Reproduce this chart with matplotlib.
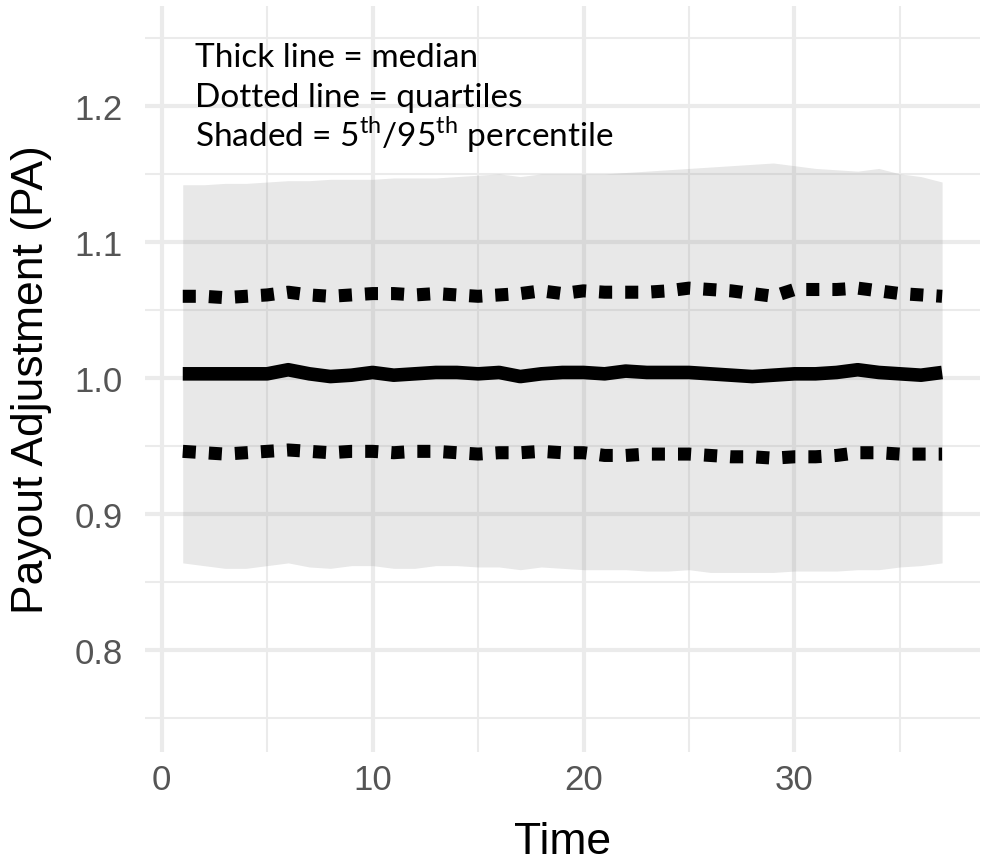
# Payout adjustment fan chart: median, quartiles and 5th/95th percentile band
import numpy as np
import matplotlib.pyplot as plt
from matplotlib.ticker import MultipleLocator

plt.rcParams['mathtext.fontset'] = 'custom'
plt.rcParams['mathtext.rm'] = 'Lato'

# Values
time = list(range(1, 38))
p95 = [1.142, 1.142, 1.143, 1.143, 1.144, 1.145, 1.145, 1.146, 1.146, 1.146,
       1.147, 1.147, 1.147, 1.148, 1.149, 1.150, 1.148, 1.150, 1.150, 1.150,
       1.150, 1.151, 1.152, 1.153, 1.154, 1.155, 1.156, 1.157, 1.158, 1.156,
       1.154, 1.153, 1.152, 1.154, 1.150, 1.148, 1.144]
p05 = [0.864, 0.862, 0.860, 0.860, 0.862, 0.864, 0.861, 0.860, 0.862, 0.862,
       0.860, 0.860, 0.862, 0.862, 0.861, 0.861, 0.859, 0.861, 0.860, 0.859,
       0.859, 0.859, 0.858, 0.858, 0.859, 0.857, 0.857, 0.857, 0.857, 0.858,
       0.858, 0.858, 0.859, 0.859, 0.861, 0.862, 0.864]
median = [1.003, 1.003, 1.003, 1.003, 1.003, 1.006, 1.003, 1.001, 1.002, 1.004,
          1.002, 1.003, 1.004, 1.004, 1.003, 1.004, 1.001, 1.003, 1.004, 1.004,
          1.003, 1.005, 1.004, 1.004, 1.004, 1.003, 1.002, 1.001, 1.002, 1.003,
          1.003, 1.004, 1.006, 1.004, 1.003, 1.002, 1.004]
q75 = [1.060, 1.060, 1.059, 1.060, 1.061, 1.063, 1.061, 1.060, 1.061, 1.062,
       1.062, 1.061, 1.062, 1.061, 1.060, 1.061, 1.062, 1.064, 1.062, 1.064,
       1.063, 1.063, 1.063, 1.064, 1.066, 1.065, 1.064, 1.062, 1.060, 1.065,
       1.065, 1.065, 1.066, 1.064, 1.062, 1.061, 1.060]
q25 = [0.946, 0.945, 0.944, 0.945, 0.946, 0.947, 0.946, 0.945, 0.946, 0.946,
       0.945, 0.946, 0.946, 0.945, 0.944, 0.945, 0.945, 0.946, 0.945, 0.945,
       0.943, 0.943, 0.944, 0.944, 0.944, 0.943, 0.942, 0.942, 0.941, 0.942,
       0.942, 0.943, 0.945, 0.945, 0.944, 0.944, 0.944]
notes = ['Thick line = median',
         'Dotted line = quartiles',
         r'Shaded = 5$^{\mathrm{th}}$/95$^{\mathrm{th}}$ percentile']

fig = plt.figure(figsize=(9.85, 8.62), dpi=100)
ax = fig.add_axes([0.147, 0.1265, 0.848, 0.8655])

# Shaded band, then quartiles and median
ax.fill_between(time, p05, p95, color='#8c8c8c', alpha=0.2, linewidth=0)
for q in (q75, q25):
    ax.plot(time, q, color='black', linewidth=9.4, linestyle=(0, (1, 1)),
            dash_capstyle='butt')
ax.plot(time, median, color='black', linewidth=9.8, solid_capstyle='butt',
        solid_joinstyle='round')

ax.set_xlim(-0.8, 38.8)
ax.set_ylim(0.725, 1.2735)
ax.xaxis.set_major_locator(MultipleLocator(10))
ax.xaxis.set_minor_locator(MultipleLocator(5))
ax.yaxis.set_major_locator(MultipleLocator(0.1))
ax.yaxis.set_minor_locator(MultipleLocator(0.05))
ax.yaxis.set_major_formatter(plt.FormatStrFormatter('%.1f'))

# ggplot-style minimal theme
ax.set_axisbelow(True)
ax.grid(which='major', color='#ebebeb', linewidth=3)
ax.grid(which='minor', color='#ebebeb', linewidth=1.5)
for s in ax.spines.values():
    s.set_visible(False)
ax.tick_params(which='both', length=0)
ax.tick_params(axis='y', labelsize=25, labelcolor='#555555', pad=16)
ax.tick_params(axis='x', labelsize=25, labelcolor='#555555', pad=8)
for lab in ax.get_xticklabels() + ax.get_yticklabels():
    lab.set_family('Liberation Sans')

ax.set_xlabel('Time', fontsize=32, family='Liberation Sans', labelpad=18)
ax.set_ylabel('Payout Adjustment (PA)', fontsize=32, family='Liberation Sans',
              labelpad=16)

# Legend notes in the top-left corner
for i, note in enumerate(notes):
    ax.text(1.6, 1.2294 - i * 0.0292, note, fontsize=24, family='Lato',
            va='baseline', ha='left')

fig.savefig('out.png', dpi=100)
